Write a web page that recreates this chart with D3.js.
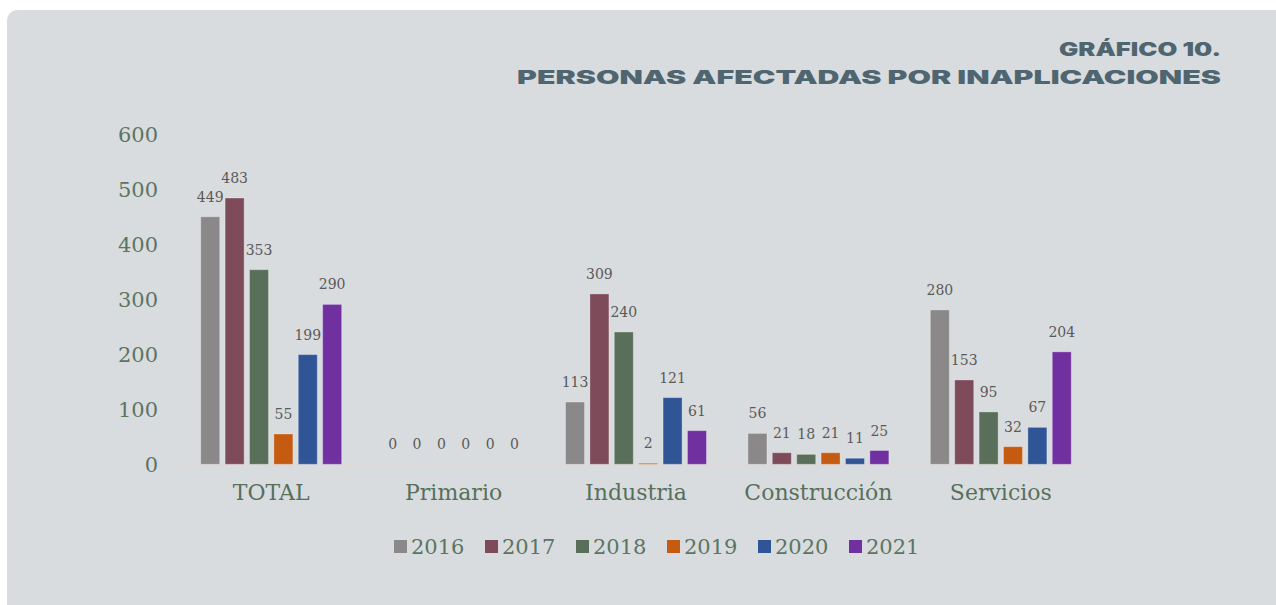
<!DOCTYPE html>
<html><head><meta charset="utf-8">
<script src="https://cdn.jsdelivr.net/npm/d3@7"></script>
<style>html,body{margin:0;padding:0;background:#fff;overflow:hidden}</style>
</head><body>
<svg id="c" width="1276" height="605"></svg>
<script>
const categories = ["TOTAL", "Primario", "Industria", "Construcción", "Servicios"];
const years = ["2016", "2017", "2018", "2019", "2020", "2021"];
const v2016 = [449, 0, 113, 56, 280];
const v2017 = [483, 0, 309, 21, 153];
const v2018 = [353, 0, 240, 18, 95];
const v2019 = [55, 0, 2, 21, 32];
const v2020 = [199, 0, 121, 11, 67];
const v2021 = [290, 0, 61, 25, 204];
const yTicks = [0, 100, 200, 300, 400, 500, 600];
const colors = ["#8a8888", "#7d4b59", "#5a6f5a", "#c55a11", "#2f5597", "#7030a0"];
const titleLine1 = "GRÁFICO 10.";
const titleLine2 = "PERSONAS AFECTADAS POR INAPLICACIONES";

const series = [v2016, v2017, v2018, v2019, v2020, v2021];
const svg = d3.select("#c");
const serif = "'DejaVu Serif', serif";

// card
svg.append("path")
  .attr("d", "M7,22 Q7,10 19,10 L1290,10 L1290,620 L7,620 Z")
  .attr("fill", "#d9dcdf");

// title
const titleFont = "Inter, 'DejaVu Sans', sans-serif";
svg.append("text").attr("x", 1221).attr("y", 56).attr("text-anchor", "end")
  .attr("font-family", titleFont).attr("font-weight", 900)
  .attr("font-size", 19).attr("fill", "#4f6570")
  .attr("textLength", 162).attr("lengthAdjust", "spacingAndGlyphs")
  .text(titleLine1);
svg.append("text").attr("x", 1221).attr("y", 84).attr("text-anchor", "end")
  .attr("font-family", titleFont).attr("font-weight", 900)
  .attr("font-size", 19).attr("fill", "#4f6570")
  .attr("textLength", 704).attr("lengthAdjust", "spacingAndGlyphs")
  .text(titleLine2);

const x0 = d3.scaleBand().domain(categories).range([180, 1092]).padding(0);
const x1 = d3.scaleBand().domain(years).range([0, x0.bandwidth()])
  .paddingInner(0.22).paddingOuter(0.85);
const y = d3.scaleLinear().domain([0, 600]).range([464.3, 133.5]);

// y tick labels
const yAxis = d3.axisLeft(y).tickValues(yTicks).tickSize(0).tickPadding(0);
const ga = svg.append("g").attr("transform", "translate(158,0)").call(yAxis);
ga.select(".domain").remove();
ga.selectAll("text").attr("font-family", serif).attr("font-size", 21)
  .attr("fill", "#5b7562").attr("dy", "0.36em");

// baseline
svg.append("line").attr("x1", 180).attr("x2", 1092)
  .attr("y1", y(0) + 0.5).attr("y2", y(0) + 0.5)
  .attr("stroke", "#e2d7d3").attr("stroke-width", 1);

// bars
const rows = [];
categories.forEach((c, i) => years.forEach((yr, j) => rows.push({c, yr, j, v: series[j][i]})));
const g = svg.append("g");
g.selectAll("rect").data(rows.filter(d => d.v > 0)).join("rect")
  .attr("x", d => x0(d.c) + x1(d.yr))
  .attr("y", d => y(d.v))
  .attr("width", x1.bandwidth())
  .attr("height", d => y(0) - y(d.v))
  .attr("fill", d => colors[d.j])
  .attr("stroke", "rgba(255,255,255,0.3)").attr("stroke-width", 1);

g.selectAll("text").data(rows).join("text")
  .attr("x", d => x0(d.c) + x1(d.yr) + x1.bandwidth() / 2)
  .attr("y", d => y(d.v) - 15)
  .attr("text-anchor", "middle")
  .attr("font-family", serif).attr("font-size", 14).attr("fill", "#595959")
  .text(d => d.v);

// category axis
const xAxis = d3.axisBottom(x0).tickSize(0).tickPadding(0);
const gx = svg.append("g").attr("transform", "translate(0,500)").call(xAxis);
gx.select(".domain").remove();
gx.selectAll("text").attr("font-family", serif).attr("font-size", 22)
  .attr("fill", "#56705c").attr("dy", 0).attr("y", 0);

// legend
const legX = d3.scalePoint().domain(years).range([394, 849]);
const lg = svg.append("g").selectAll("g").data(years).join("g")
  .attr("transform", d => `translate(${legX(d)},0)`);
lg.append("rect").attr("x", 0).attr("y", 540).attr("width", 13).attr("height", 13)
  .attr("fill", (d, i) => colors[i]);
lg.append("text").attr("x", 17).attr("y", 554)
  .attr("font-family", serif).attr("font-size", 21).attr("fill", "#5b7562")
  .text(d => d);
</script>
</body></html>
